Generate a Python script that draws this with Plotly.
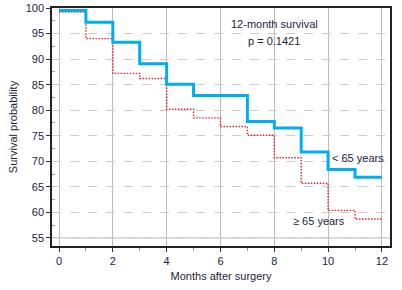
import plotly.graph_objects as go

months = [0, 1, 2, 3, 4, 5, 6, 7, 8, 9, 10, 11, 12]
young = [99.5, 97.2, 93.3, 89.1, 85.1, 82.9, 82.9, 77.8, 76.5, 71.8, 68.4, 66.9, 66.9]
old = [99.2, 94.0, 87.2, 86.2, 80.2, 78.5, 76.8, 75.1, 70.7, 65.7, 60.4, 58.7, 58.7]
x_ticks = [0, 2, 4, 6, 8, 10, 12]
x_minor = [1, 3, 5, 7, 9, 11]
y_ticks = [55, 60, 65, 70, 75, 80, 85, 90, 95, 100]
y_minor = [57.5, 62.5, 67.5, 72.5, 77.5, 82.5, 87.5, 92.5, 97.5]

FONT = "Liberation Sans, Arial, sans-serif"
TXT = "#1c1c3c"
FS = 11

fig = go.Figure()
fig.add_trace(go.Scatter(x=months, y=old, mode="lines",
                         line=dict(shape="hv", color="#e8202a", width=1.4, dash="1.5px,1.5px"),
                         showlegend=False, hoverinfo="skip"))
fig.add_trace(go.Scatter(x=months, y=young, mode="lines",
                         line=dict(shape="hv", color="#00aeef", width=3),
                         showlegend=False, hoverinfo="skip"))

# solid gridline at the lowest tick
fig.add_shape(type="line", xref="paper", x0=0, x1=1, yref="y", y0=y_ticks[0], y1=y_ticks[0],
              line=dict(color="#bbbbbb", width=1), layer="below")

fig.add_annotation(x=8.0, y=96.8, text="12-month survival", showarrow=False, font=dict(size=FS, color=TXT, family=FONT))
fig.add_annotation(x=8.0, y=93.5, text="p = 0.1421", showarrow=False, font=dict(size=FS, color=TXT, family=FONT))
fig.add_annotation(x=11.1, y=70.6, text="&lt; 65 years", showarrow=False, font=dict(size=FS, color=TXT, family=FONT))
fig.add_annotation(x=9.65, y=58.4, text="≥ 65 years", showarrow=False, font=dict(size=FS, color=TXT, family=FONT))

fig.update_layout(
    width=402, height=290,
    margin=dict(l=52, r=12, t=8, b=44),
    plot_bgcolor="white", paper_bgcolor="white",
    font=dict(family=FONT, size=FS, color=TXT),
)
fig.update_xaxes(
    range=[-0.26, 12.3], tickvals=x_ticks, ticks="outside", ticklen=4, tickcolor="#333",
    showgrid=True, gridcolor="#bbbbbb", gridwidth=1,
    showline=True, linecolor="#222", linewidth=1.5, mirror=True,
    zeroline=False, automargin=False,
    minor=dict(tickvals=x_minor, ticks="outside", ticklen=3, tickcolor="#999", showgrid=False),
    title=dict(text="Months after surgery", font=dict(size=FS, family=FONT, color=TXT), standoff=6),
    tickfont=dict(size=FS, family=FONT, color=TXT),
)
fig.update_yaxes(
    range=[53.43, 100], tickvals=y_ticks, ticks="outside", ticklen=4, tickcolor="#333",
    showgrid=True, gridcolor="#cccccc", gridwidth=1, griddash="dash",
    showline=True, linecolor="#222", linewidth=1.5, mirror=True,
    zeroline=False, automargin=False,
    minor=dict(tickvals=y_minor, ticks="inside", ticklen=3, tickcolor="#999", showgrid=False),
    title=dict(text="Survival probability", font=dict(size=FS, family=FONT, color=TXT), standoff=6),
    tickfont=dict(size=FS, family=FONT, color=TXT),
)
fig.write_html("out.html", config={"displayModeBar": False},
               post_script="document.body.style.margin='0';document.body.style.padding='0';")
